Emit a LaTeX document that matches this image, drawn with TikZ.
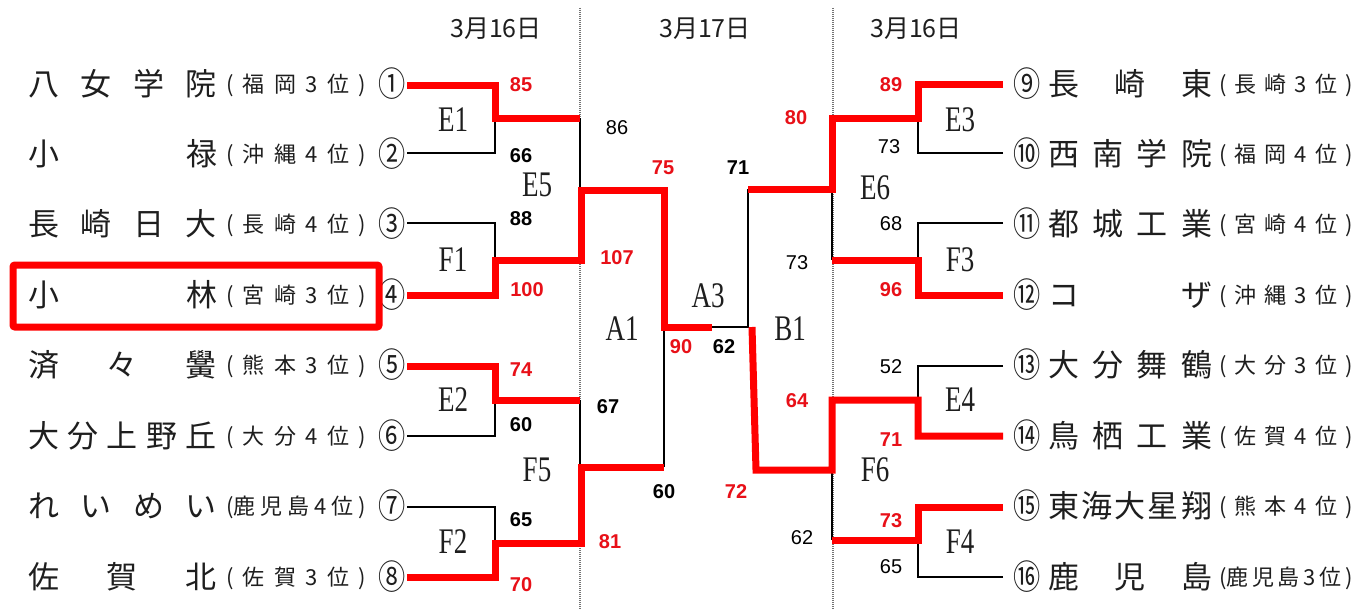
\documentclass[tikz,border=0pt]{standalone}
\usepackage{fontspec}
\usepackage{graphicx}
\setmainfont{Liberation Serif}
\setsansfont{Liberation Sans}
\newfontfamily\cjk{Noto Sans CJK JP}
\newfontfamily\arial{Liberation Sans}
\newfontfamily\tms{Liberation Serif}
\definecolor{rd}{RGB}{255,0,0}
\definecolor{rdt}{RGB}{232,16,24}
\definecolor{ink}{RGB}{30,30,30}
\newcommand{\rnd}[1]{\scalebox{0.75}[1]{\tms\fontsize{36}{36}\selectfont #1}}
\newcommand{\cnum}[1]{\scalebox{0.8}[1]{\cjk\fontsize{34}{34}\selectfont #1}}
\newcommand{\lname}[1]{\makebox[189pt][s]{#1}}
\newcommand{\lpar}[1]{\makebox[140pt][s]{#1}}
\newcommand{\rname}[1]{\makebox[164pt][s]{#1}}
\newcommand{\rpar}[1]{\makebox[134pt][s]{#1}}
\begin{document}
\begin{tikzpicture}[x=1pt,y=-1pt,
  nm/.style={inner sep=0, text=ink, font=\cjk\fontsize{31}{31}\selectfont},
  pr/.style={inner sep=0, text=ink, font=\cjk\fontsize{22}{22}\selectfont},
  cn/.style={inner sep=0, text=ink},
  rl/.style={inner sep=0, text=ink},
  dt/.style={inner sep=0, text=ink, font=\cjk\fontsize{25}{25}\selectfont},
  scr/.style={inner sep=0, text=rdt, font=\arial\bfseries\fontsize{20}{20}\selectfont},
  scb/.style={inner sep=0, text=black, font=\arial\bfseries\fontsize{20}{20}\selectfont},
  scn/.style={inner sep=0, text=black, font=\arial\fontsize{20}{20}\selectfont},
  win/.style={rd, line width=7pt, line join=miter},
  lose/.style={black, line width=1.8pt},
  day/.style={gray!90!black, line width=2.4pt, dash pattern=on 1pt off 1pt}
]
\useasboundingbox (0,0) rectangle (1365,610);
\fill[white] (0,0) rectangle (1365,610);

% day separators
\coordinate (d1a) at (580,8); \coordinate (d1b) at (580,610);
\coordinate (d2a) at (833,8); \coordinate (d2b) at (833,610);
\draw[day] (d1a) -- (d1b);
\draw[day] (d2a) -- (d2b);

% dates
\node[dt] (date1) at (496,29) {3月16日};
\node[dt] (date2) at (705,29) {3月17日};
\node[dt] (date3) at (916,29) {3月16日};

% left teams
\node[nm] (t1) at (122.5,84) {\lname{八\hfill 女\hfill 学\hfill 院}};
\node[pr] (p1) at (296,85) {\lpar{(\hfill 福\hfill 岡\hfill 3\hfill 位\hfill )}};
\node[cn] (c1) at (392,84) {\cnum{①}};
\node[nm] (t2) at (122.5,154) {\lname{小\hfill 禄}};
\node[pr] (p2) at (296,155) {\lpar{(\hfill 沖\hfill 縄\hfill 4\hfill 位\hfill )}};
\node[cn] (c2) at (392,154) {\cnum{②}};
\node[nm] (t3) at (122.5,224) {\lname{長\hfill 崎\hfill 日\hfill 大}};
\node[pr] (p3) at (296,225) {\lpar{(\hfill 長\hfill 崎\hfill 4\hfill 位\hfill )}};
\node[cn] (c3) at (392,224) {\cnum{③}};
\node[nm] (t4) at (122.5,295) {\lname{小\hfill 林}};
\node[pr] (p4) at (296,296) {\lpar{(\hfill 宮\hfill 崎\hfill 3\hfill 位\hfill )}};
\node[cn] (c4) at (392,295) {\cnum{④}};
\node[nm] (t5) at (122.5,365) {\lname{済\hfill 々\hfill 黌}};
\node[pr] (p5) at (296,366) {\lpar{(\hfill 熊\hfill 本\hfill 3\hfill 位\hfill )}};
\node[cn] (c5) at (392,365) {\cnum{⑤}};
\node[nm] (t6) at (122.5,436) {\lname{大\hfill 分\hfill 上\hfill 野\hfill 丘}};
\node[pr] (p6) at (296,437) {\lpar{(\hfill 大\hfill 分\hfill 4\hfill 位\hfill )}};
\node[cn] (c6) at (392,436) {\cnum{⑥}};
\node[nm] (t7) at (122.5,506) {\lname{れ\hfill い\hfill め\hfill い}};
\node[pr] (p7) at (296,507) {\lpar{(鹿\hfill 児\hfill 島\hfill 4\hfill 位\hfill )}};
\node[cn] (c7) at (392,506) {\cnum{⑦}};
\node[nm] (t8) at (122.5,577) {\lname{佐\hfill 賀\hfill 北}};
\node[pr] (p8) at (296,578) {\lpar{(\hfill 佐\hfill 賀\hfill 3\hfill 位\hfill )}};
\node[cn] (c8) at (392,577) {\cnum{⑧}};

% right teams
\node[cn] (c9) at (1027,84) {\cnum{⑨}};
\node[nm] (t9) at (1130,84) {\rname{長\hfill 崎\hfill 東}};
\node[pr] (p9) at (1286,85) {\rpar{(\hfill 長\hfill 崎\hfill 3\hfill 位\hfill )}};
\node[cn] (c10) at (1027,154) {\cnum{⑩}};
\node[nm] (t10) at (1130,154) {\rname{西\hfill 南\hfill 学\hfill 院}};
\node[pr] (p10) at (1286,155) {\rpar{(\hfill 福\hfill 岡\hfill 4\hfill 位\hfill )}};
\node[cn] (c11) at (1027,224) {\cnum{⑪}};
\node[nm] (t11) at (1130,224) {\rname{都\hfill 城\hfill 工\hfill 業}};
\node[pr] (p11) at (1286,225) {\rpar{(\hfill 宮\hfill 崎\hfill 4\hfill 位\hfill )}};
\node[cn] (c12) at (1027,295) {\cnum{⑫}};
\node[nm] (t12) at (1130,295) {\rname{コ\hfill ザ}};
\node[pr] (p12) at (1286,296) {\rpar{(\hfill 沖\hfill 縄\hfill 3\hfill 位\hfill )}};
\node[cn] (c13) at (1027,365) {\cnum{⑬}};
\node[nm] (t13) at (1130,365) {\rname{大\hfill 分\hfill 舞\hfill 鶴}};
\node[pr] (p13) at (1286,366) {\rpar{(\hfill 大\hfill 分\hfill 3\hfill 位\hfill )}};
\node[cn] (c14) at (1027,436) {\cnum{⑭}};
\node[nm] (t14) at (1130,436) {\rname{鳥\hfill 栖\hfill 工\hfill 業}};
\node[pr] (p14) at (1286,437) {\rpar{(\hfill 佐\hfill 賀\hfill 4\hfill 位\hfill )}};
\node[cn] (c15) at (1027,506) {\cnum{⑮}};
\node[nm] (t15) at (1130,506) {\rname{東\hfill 海\hfill 大\hfill 星\hfill 翔}};
\node[pr] (p15) at (1286,507) {\rpar{(\hfill 熊\hfill 本\hfill 4\hfill 位\hfill )}};
\node[cn] (c16) at (1027,577) {\cnum{⑯}};
\node[nm] (t16) at (1130,577) {\rname{鹿\hfill 児\hfill 島}};
\node[pr] (p16) at (1286,578) {\rpar{(鹿\hfill 児\hfill 島\hfill 3\hfill 位\hfill )}};

% highlight box
\node[draw=rd, line width=7pt, rounded corners=2pt, minimum width=366pt, minimum height=62pt, inner sep=0] (hl) at (196,296) {};

% line end points
\foreach \i/\y in {1/85,2/153,3/223,4/295,5/366,6/436,7/507,8/577}
  \coordinate (L\i) at (407,\y);
\foreach \i/\y in {9/84,10/153,11/223,12/295,13/366,14/436,15/507,16/577}
  \coordinate (L\i) at (1003,\y);
% junctions
\coordinate (jE1) at (495,118); \coordinate (jF1) at (495,260);
\coordinate (jE2) at (495,400); \coordinate (jF2) at (495,543);
\coordinate (kE1) at (580,118); \coordinate (kF1) at (581,260);
\coordinate (kE2) at (580,400); \coordinate (kF2) at (581,543);
\coordinate (jE5) at (580,190); \coordinate (jF5) at (580,467);
\coordinate (aT) at (664,190); \coordinate (aB) at (664,467);
\coordinate (jA1) at (664,327); \coordinate (jA3) at (712,327);
\coordinate (jE3) at (918,118); \coordinate (jF3) at (918,260);
\coordinate (jE4) at (918,400); \coordinate (jF4) at (918,540);
\coordinate (kE3) at (832,118); \coordinate (kF3) at (832,260);
\coordinate (kE4) at (832,400); \coordinate (kF4) at (832,540);
\coordinate (jE6) at (832,189); \coordinate (jF6) at (832,470);
\coordinate (bT) at (748,189); \coordinate (bB) at (756,470);
\coordinate (jB1) at (748,327); \coordinate (jB1r) at (752,327);

% losing lines
\draw[lose] (L2) -| (jE1);
\draw[lose] (L3) -| (jF1);
\draw[lose] (L6) -| (jE2);
\draw[lose] (L7) -| (jF2);
\draw[lose] (kE1) -- (jE5);
\draw[lose] (kE2) -- (jF5);
\draw[lose] (jA1) -- (aB);
\draw[lose] (bT) -- (jB1) -- (jA3);
\draw[lose] (L10) -| (jE3);
\draw[lose] (L11) -| (jF3);
\draw[lose] (L13) -| (jE4);
\draw[lose] (L16) -| (jF4);
\draw[lose] (jE6) -- (kF3);
\draw[lose] (jF6) -- (kF4);

% winning lines
\draw[win] (L1) -| (jE1) -- (kE1);
\draw[win] (L4) -| (jF1) -- (kF1) -- (kF1 |- jE5) -- (aT) -- (jA1) -- (jA3);
\draw[win] (L5) -| (jE2) -- (kE2);
\draw[win] (L8) -| (jF2) -- (kF2) -- (kF2 |- jF5) -- (aB);
\draw[win] (L9) -| (jE3) -- (kE3) -- (jE6) -- (bT);
\draw[win] (L12) -| (jF3) -- (kF3);
\draw[win] (L14) -| (jE4) -- (kE4) -- (jF6) -- (bB) -- (jB1r);
\draw[win] (L15) -| (jF4) -- (kF4);

% round labels
\node[rl] (E1) at (453,120) {\rnd{E1}};
\node[rl] (F1) at (453,260) {\rnd{F1}};
\node[rl] (E2) at (453,400) {\rnd{E2}};
\node[rl] (F2) at (453,542) {\rnd{F2}};
\node[rl] (E5) at (537,185) {\rnd{E5}};
\node[rl] (F5) at (537,470) {\rnd{F5}};
\node[rl] (A1) at (622,329) {\rnd{A1}};
\node[rl] (A3) at (708,296) {\rnd{A3}};
\node[rl] (B1) at (790,329) {\rnd{B1}};
\node[rl] (E3) at (960,120) {\rnd{E3}};
\node[rl] (F3) at (960,260) {\rnd{F3}};
\node[rl] (E4) at (960,400) {\rnd{E4}};
\node[rl] (F4) at (960,542) {\rnd{F4}};
\node[rl] (E6) at (875,188) {\rnd{E6}};
\node[rl] (F6) at (875,470) {\rnd{F6}};

% scores
\node[scr] (s1) at (521,85) {85};
\node[scb] (s2) at (521,156) {66};
\node[scb] (s3) at (521,219) {88};
\node[scr] (s4) at (527,290) {100};
\node[scr] (s5) at (521,370) {74};
\node[scb] (s6) at (521,425) {60};
\node[scb] (s7) at (521,520) {65};
\node[scr] (s8) at (521,585) {70};
\node[scn] (s9) at (617,128) {86};
\node[scr] (s10) at (617,258) {107};
\node[scb] (s11) at (608,407) {67};
\node[scr] (s12) at (610,542) {81};
\node[scr] (s13) at (663,168) {75};
\node[scr] (s14) at (681,347) {90};
\node[scb] (s15) at (724,347) {62};
\node[scb] (s16) at (664,492) {60};
\node[scb] (s17) at (738,168) {71};
\node[scr] (s18) at (736,492) {72};
\node[scr] (s19) at (796,118) {80};
\node[scn] (s20) at (797,263) {73};
\node[scr] (s21) at (797,401) {64};
\node[scn] (s22) at (802,538) {62};
\node[scr] (s23) at (891,85) {89};
\node[scn] (s24) at (889,147) {73};
\node[scn] (s25) at (891,224) {68};
\node[scr] (s26) at (891,290) {96};
\node[scn] (s27) at (891,367) {52};
\node[scr] (s28) at (891,440) {71};
\node[scr] (s29) at (891,521) {73};
\node[scn] (s30) at (891,567) {65};
\end{tikzpicture}
\end{document}
